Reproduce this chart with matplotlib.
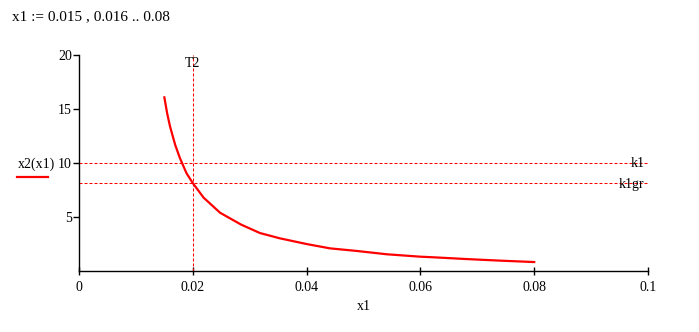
import matplotlib
matplotlib.use("Agg")
import matplotlib.pyplot as plt

# Data
x1_vals = [0.015, 0.0155, 0.016, 0.0169, 0.01775, 0.0189, 0.020, 0.0219, 0.0248,
           0.0285, 0.0318, 0.0353, 0.040, 0.0441, 0.0488, 0.0541, 0.0599,
           0.0623, 0.068, 0.074, 0.080]
x2_vals = [16.1, 14.6, 13.4, 11.7, 10.45, 9.06, 8.15, 6.8, 5.4,
           4.3, 3.52, 3.03, 2.5, 2.1, 1.86, 1.55, 1.33,
           1.27, 1.11, 0.96, 0.83]
k1 = 10.0
k1gr = 8.13
T2 = 0.02

x_ticks = [0, 0.02, 0.04, 0.06, 0.08, 0.1]
x_tick_labels = ["0", "0.02", "0.04", "0.06", "0.08", "0.1"]
y_ticks = [5, 10, 15, 20]
y_tick_labels = ["5", "10", "15", "20"]

W, H = 699, 332
fig = plt.figure(figsize=(W / 100, H / 100), dpi=100)
ax = fig.add_axes([79 / W, 1 - 271 / H, (648 - 79) / W, (271 - 55.3) / H])

serif = "Liberation Serif"
red = "#ff0000"
dash = (0, (2.9, 1.9))

ax.plot(x1_vals, x2_vals, color=red, lw=1.6, solid_joinstyle="miter")
ax.axhline(k1, color=red, lw=0.75, linestyle=dash)
ax.axhline(k1gr, color=red, lw=0.75, linestyle=dash)
ax.axvline(T2, color=red, lw=0.75, linestyle=dash)

ax.set_xlim(0, 0.1)
ax.set_ylim(0, 20)
for s in ["top", "right"]:
    ax.spines[s].set_visible(False)
for s in ["left", "bottom"]:
    ax.spines[s].set_linewidth(1.0)
    ax.spines[s].set_color("black")

ax.set_xticks(x_ticks)
ax.set_xticklabels(x_tick_labels, fontfamily=serif, fontsize=10)
ax.set_yticks(y_ticks)
ax.set_yticklabels(y_tick_labels, fontfamily=serif, fontsize=10)
ax.tick_params(axis="x", direction="inout", length=6, width=1, pad=4)
ax.tick_params(axis="y", direction="out", length=4, width=1, pad=1)

ax.text(T2, 19.8, "T2", ha="center", va="top", fontfamily=serif, fontsize=10)
ax.text(0.0994, k1, "k1", ha="right", va="center", fontfamily=serif, fontsize=10)
ax.text(0.0994, k1gr - 0.1, "k1gr", ha="right", va="center", fontfamily=serif, fontsize=10)

fig.text(364 / W, 1 - 307 / H, "x1", ha="center", va="center", fontfamily=serif, fontsize=10)
fig.text(18 / W, 1 - 164 / H, "x2(x1)", ha="left", va="center", fontfamily=serif, fontsize=10)
fig.add_artist(plt.Line2D([17 / W, 48 / W], [1 - 177 / H, 1 - 177 / H], color=red, lw=1.6))
fig.text(12 / W, 1 - 17 / H, "x1 := 0.015 , 0.016 .. 0.08", ha="left", va="center",
         fontfamily=serif, fontsize=11)

fig.savefig("out.png", dpi=100)
